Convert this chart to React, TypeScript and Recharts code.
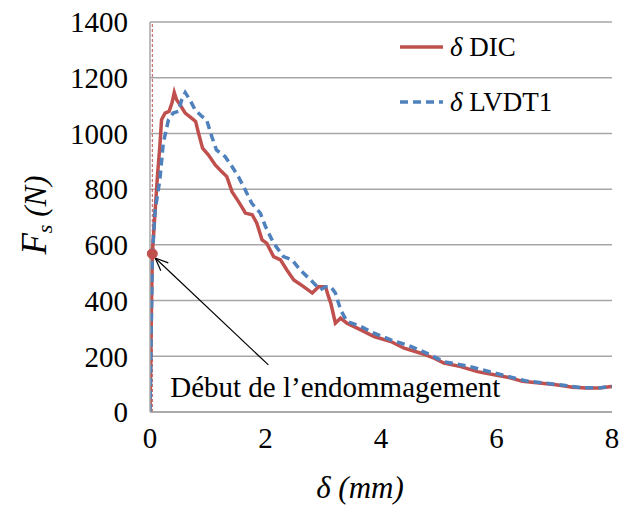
import React from "react";
import {
  LineChart,
  Line,
  XAxis,
  YAxis,
  CartesianGrid,
  ReferenceLine,
  ReferenceDot,
} from "recharts";

const DIC_X = [0, 0.02, 0.04, 0.09, 0.13, 0.17, 0.2, 0.26, 0.33, 0.38, 0.42, 0.46, 0.52, 0.61, 0.72, 0.79, 0.84, 0.91, 1.01, 1.13, 1.24, 1.33, 1.42, 1.53, 1.62, 1.65, 1.77, 1.85, 1.94, 2.02, 2.14, 2.26, 2.37, 2.49, 2.66, 2.81, 2.92, 3.04, 3.09, 3.13, 3.21, 3.3, 3.41, 3.65, 3.88, 4.17, 4.4, 4.69, 4.92, 5.09, 5.38, 5.67, 5.96, 6.25, 6.45, 6.74, 7.03, 7.32, 7.55, 7.78, 8.0];
const DIC_F = [0, 300, 568, 726, 850, 953, 1049, 1073, 1079, 1109, 1147, 1121, 1103, 1073, 1055, 1043, 1001, 947, 923, 887, 863, 845, 791, 756, 726, 714, 708, 678, 618, 606, 558, 546, 510, 474, 450, 427, 450, 450, 415, 391, 319, 337, 319, 295, 271, 253, 229, 211, 193, 176, 163, 145, 134, 122, 110, 104, 98, 89, 86, 86, 92];

const LVDT_X = [0, 0.04, 0.09, 0.17, 0.23, 0.32, 0.4, 0.49, 0.55, 0.61, 0.69, 0.78, 0.9, 0.98, 1.07, 1.15, 1.3, 1.42, 1.53, 1.65, 1.76, 1.91, 2.0, 2.14, 2.31, 2.46, 2.6, 2.78, 2.95, 3.04, 3.13, 3.21, 3.3, 3.41, 3.65, 3.88, 4.17, 4.46, 4.75, 5.1, 5.5, 6.0, 6.5, 7.0, 7.5, 7.8, 8.0];
const LVDT_F = [0, 560, 726, 833, 965, 1049, 1073, 1079, 1121, 1147, 1121, 1085, 1061, 1049, 989, 941, 917, 881, 845, 797, 750, 714, 666, 606, 558, 546, 510, 474, 439, 450, 450, 427, 367, 325, 307, 283, 259, 240, 215, 180, 165, 138, 112, 100, 87, 87, 92];

const X_TICKS = [0, 2, 4, 6, 8];
const Y_TICKS = [0, 200, 400, 600, 800, 1000, 1200, 1400];

const ONSET = { x: 0.04, y: 568 };
const ARROW_FROM = { x: 2.05, y: 169 };
const ARROW_TO = { x: 0.09, y: 553 };
const NOTE = { x: 0.35, y: 55, text: "Début de l\u2019endommagement" };

const RED = "#c0504d";
const BLUE = "#4f81bd";
const GRID = "#a6a6a6";
const FONT = "Liberation Serif, Times New Roman, serif";

const dicData = DIC_X.map((x, i) => ({ x, f: DIC_F[i] }));
const lvdtData = LVDT_X.map((x, i) => ({ x, f: LVDT_F[i] }));

function Arrow(props: any) {
  const { x1, y1, x2, y2 } = props;
  const a = Math.atan2(y2 - y1, x2 - x1);
  const len = 14;
  const spread = 0.4;
  return (
    <g stroke="#000" strokeWidth={1.2} fill="none">
      <line x1={x1} y1={y1} x2={x2} y2={y2} />
      <line x1={x2} y1={y2} x2={x2 - len * Math.cos(a - spread)} y2={y2 - len * Math.sin(a - spread)} />
      <line x1={x2} y1={y2} x2={x2 - len * Math.cos(a + spread)} y2={y2 - len * Math.sin(a + spread)} />
    </g>
  );
}

// legend drawn as an overlay so it doesn't eat into the plot width
function LegendBox() {
  const row = (dash: string | undefined, color: string, label: string, top: number) => (
    <div style={{ position: "absolute", left: 0, top, display: "flex", alignItems: "center", height: 30, whiteSpace: "nowrap" }}>
      <svg width={50} height={10}>
        <line x1={2} y1={5} x2={45} y2={5} stroke={color} strokeWidth={3.5} strokeDasharray={dash} />
      </svg>
      <span style={{ fontFamily: FONT, fontSize: 27, marginLeft: 2, lineHeight: "30px" }}>
        <i>δ</i> {label}
      </span>
    </div>
  );
  return (
    <div style={{ position: "absolute", left: 398, top: 32, width: 210, height: 100 }}>
      {row(undefined, RED, "DIC", 0)}
      {row("8 5", BLUE, "LVDT1", 55)}
    </div>
  );
}

export default function App() {
  return (
    <div style={{ position: "absolute", left: 0, top: 0, width: 622, height: 508, background: "#fff" }}>
      <LineChart width={622} height={508} margin={{ top: 22, right: 10, left: 0, bottom: 0 }}>
        <CartesianGrid vertical={false} stroke={GRID} strokeWidth={1.5} />
        <XAxis
          type="number"
          dataKey="x"
          domain={[0, 8]}
          ticks={X_TICKS}
          allowDataOverflow
          height={96}
          axisLine={{ stroke: GRID, strokeWidth: 1.5 }}
          tickLine={false}
          tickSize={0}
          tickMargin={15}
          tick={{ fill: "#000", fontSize: 29, fontFamily: FONT }}
          label={{
            content: () => (
              <text x={360} y={498} textAnchor="middle" fontFamily={FONT} fontSize={31} fontStyle="italic">
                δ (mm)
              </text>
            ),
          }}
        />
        <YAxis
          type="number"
          domain={[0, 1400]}
          ticks={Y_TICKS}
          width={150}
          axisLine={{ stroke: GRID, strokeWidth: 1.5 }}
          tickLine={false}
          tickSize={0}
          tickMargin={22}
          tick={{ fill: "#000", fontSize: 29, fontFamily: FONT }}
          label={{
            content: () => (
              <text
                x={46}
                y={215}
                transform="rotate(-90, 46, 215)"
                textAnchor="middle"
                fontFamily={FONT}
                fontSize={35}
                fontStyle="italic"
              >
                <tspan>F</tspan>
                <tspan fontSize={22} dy={6}>s</tspan>
                <tspan dy={-6} fontSize={31}> (N)</tspan>
              </text>
            ),
          }}
        />
        <ReferenceLine x={0.04} stroke={RED} strokeWidth={1} strokeDasharray="3 2" />
        <Line
          data={dicData}
          dataKey="f"
          type="linear"
          stroke={RED}
          strokeWidth={3.5}
          dot={false}
          isAnimationActive={false}
          name="DIC"
        />
        <Line
          data={lvdtData}
          dataKey="f"
          type="linear"
          stroke={BLUE}
          strokeWidth={3.5}
          strokeDasharray="8 5"
          dot={false}
          isAnimationActive={false}
          name="LVDT1"
        />
        <ReferenceDot x={ONSET.x} y={ONSET.y} r={5} fill={RED} stroke={RED} />
        <ReferenceLine
          segment={[ARROW_FROM, ARROW_TO]}
          stroke="#000"
          shape={(p: any) => <Arrow {...p} />}
        />
        <ReferenceDot
          x={NOTE.x}
          y={NOTE.y}
          r={0}
          fill="none"
          stroke="none"
          label={{
            content: (p: any) => (
              <text x={p.viewBox.x} y={p.viewBox.y} fontFamily={FONT} fontSize={29} fill="#000">
                {NOTE.text}
              </text>
            ),
          }}
        />
      </LineChart>
      <LegendBox />
    </div>
  );
}
